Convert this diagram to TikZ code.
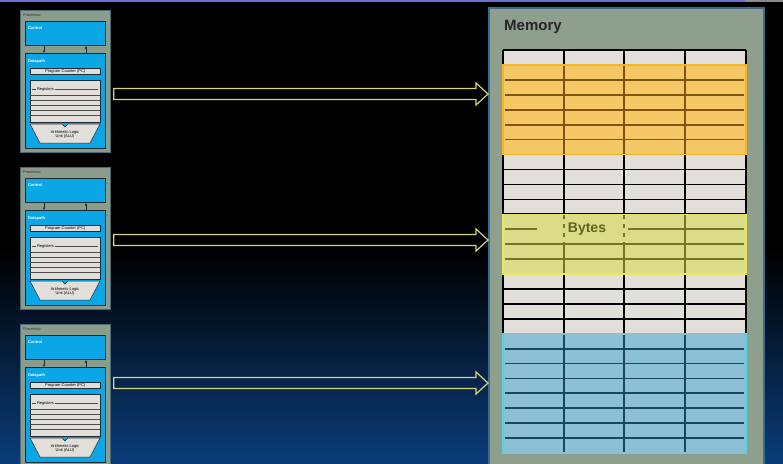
\documentclass[tikz,border=0pt]{standalone}
\usepackage{fontspec}
\setmainfont{Liberation Sans}
\usetikzlibrary{calc,arrows.meta}

\definecolor{bgblue}{HTML}{0B3C7A}
\definecolor{bgmid}{HTML}{03142E}
\definecolor{topline}{HTML}{6C70D2}
\definecolor{procgray}{HTML}{8C9C8A}
\definecolor{procedge}{HTML}{4A6A7A}
\definecolor{cpublue}{HTML}{0AA6E6}
\definecolor{unitedge}{HTML}{1C2C38}
\definecolor{cellgray}{HTML}{E2DEDA}
\definecolor{memedge}{HTML}{3C6C8C}
\definecolor{orangefill}{HTML}{F5C865}
\definecolor{orangeline}{HTML}{80540F}
\definecolor{orangeedge}{HTML}{F5B524}
\definecolor{yellowfill}{HTML}{DCDC88}
\definecolor{yellowline}{HTML}{747424}
\definecolor{yellowedge}{HTML}{E8E860}
\definecolor{bluefill}{HTML}{8CC0D6}
\definecolor{blueline}{HTML}{1A465C}
\definecolor{blueedge}{HTML}{4CD8E6}
\definecolor{arrowyellow}{HTML}{D6D67A}

\begin{document}
\begin{tikzpicture}[x=1pt,y=-1pt,
    procbox/.style={fill=procgray,draw=procedge,line width=.8pt,anchor=north west,inner sep=0pt},
    unitbox/.style={fill=cpublue,draw=unitedge,line width=1pt,anchor=north west,inner sep=0pt},
    regbox/.style={fill=cellgray,draw=unitedge,line width=.5pt},
    regline/.style={draw=black!70,line width=.6pt},
    tinylbl/.style={font=\fontsize{4}{4.6}\selectfont,inner sep=.8pt},
    busarrow/.style={draw=unitedge,line width=.6pt,-{Latex[length=2.5pt,width=2.5pt]}},
    membox/.style={fill=procgray!97!white,draw=memedge,line width=2pt,anchor=north west,inner sep=0pt},
    cellline/.style={draw=black,line width=1.6pt},
    blockline/.style={line width=1.8pt},
    hollowarrow/.style={draw=arrowyellow,line width=1.2pt,line join=miter}]
    \useasboundingbox (0,0) rectangle (783,463);
    \clip (0,0) rectangle (783,463);
    \fill[black] (0,0) rectangle (783,463);
    \shade[top color=black,middle color=bgmid,bottom color=bgblue] (0,250) rectangle (783,463);
    \draw[topline,line width=2pt] (0,1) -- (745,1);
    \draw[black!45,line width=2pt] (745,1) -- (783,1);
    % processors
    \foreach \t [count=\i] in {10,167,324}{
	\begin{scope}[shift={(0,\t)}]
	    \node[procbox,minimum width=90pt,minimum height=142pt] (proc\i) at (20,0) {};
	    \node[tinylbl,anchor=west,text=black!80] at (22,5) {Processor};
	    \node[unitbox,minimum width=80pt,minimum height=24pt] (ctl\i) at (25,11) {};
	    \node[tinylbl,anchor=west,text=white,font=\fontsize{4}{4.6}\selectfont\bfseries] at (27,18) {Control};
	    \node[unitbox,minimum width=80pt,minimum height=95pt] (dp\i) at (25,43) {};
	    \node[tinylbl,anchor=west,text=white,font=\fontsize{4}{4.6}\selectfont\bfseries] at (27,51) {Datapath};
	    \draw[busarrow] ([xshift=19pt]ctl\i.south west) -- ([xshift=19pt]dp\i.north west);
	    \draw[busarrow] ([xshift=61pt]dp\i.north west) -- ([xshift=61pt]ctl\i.south west);
	    \node[regbox,tinylbl,minimum width=70pt,minimum height=6pt,anchor=north west] (pc\i) at (30,58) {Program Counter (PC)};
	    \filldraw[regbox] (30,70) rectangle (100,112);
	    \node[tinylbl,anchor=west] (reg\i) at (36,79) {Registers};
	    \draw[regline] (32,79) -- (reg\i.west);
	    \draw[regline] (reg\i.east) -- (98,79);
	    \foreach \y in {85,90,...,105}
		\draw[regline] (30,\y) -- (100,\y);
	    \filldraw[regbox] (30,114) -- (62,114) -- (65,117) -- (68,114) -- (100,114)
		-- (90,133) -- (40,133) -- cycle;
	    \node[tinylbl,align=center] (alu\i) at (65,124.5) {Arithmetic Logic\\Unit (ALU)};
	\end{scope}
    }
    % memory
    \node[membox,minimum width=275pt,minimum height=470pt] (mem) at (488,7) {};
    \node[anchor=north west,inner sep=0pt,font=\fontsize{15}{15}\selectfont\bfseries,text=black!85] (memlbl) at (504,19.5) {Memory};
    \def\rh{14.93}
    \fill[cellgray] (503,50) rectangle (746,{50+27*\rh});
    \foreach \r in {0,...,27}
	\draw[cellline] (503,{50+\r*\rh}) -- (746,{50+\r*\rh});
    \foreach \x in {503,564,624,685,746}
	\draw[cellline] (\x,50) -- (\x,{50+27*\rh});
    % orange block
    \filldraw[fill=orangefill,draw=orangeedge,line width=1.2pt] (503,{50+\rh}) rectangle (746,{50+7*\rh});
    \foreach \r in {2,...,6}
	\draw[orangeline,blockline] (505,{50+\r*\rh}) -- (744,{50+\r*\rh});
    \foreach \x in {564,624,685}
	\draw[orangeline,blockline] (\x,{51+\rh}) -- (\x,{49+7*\rh});
    % yellow block
    \filldraw[fill=yellowfill,draw=yellowedge,line width=1.2pt] (503,{50+11*\rh}) rectangle (746,{50+15*\rh});
    \draw[yellowline,blockline] (505,{50+12*\rh}) -- (537,{50+12*\rh});
    \draw[yellowline,blockline] (628,{50+12*\rh}) -- (744,{50+12*\rh});
    \foreach \r in {13,14}
	\draw[yellowline,blockline] (505,{50+\r*\rh}) -- (744,{50+\r*\rh});
    \foreach \x in {564,624}{
	\draw[yellowline,blockline,dash pattern=on 4pt off 5pt] (\x,{51+11*\rh}) -- (\x,{50+13*\rh});
	\draw[yellowline,blockline] (\x,{50+13*\rh}) -- (\x,{49+15*\rh});
    }
    \draw[yellowline,blockline] (685,{51+11*\rh}) -- (685,{49+15*\rh});
    \node[font=\fontsize{14}{14}\selectfont\bfseries,text=yellowline!85!black,inner sep=0pt] (bytes) at (587,{50+12*\rh}) {Bytes};
    % blue block
    \filldraw[fill=bluefill,draw=blueedge,line width=1.2pt] (503,{50+19*\rh}) rectangle (746,{50+27*\rh});
    \foreach \r in {20,...,26}
	\draw[blueline,blockline] (505,{50+\r*\rh}) -- (744,{50+\r*\rh});
    \foreach \x in {564,624,685}
	\draw[blueline,blockline] (\x,{51+19*\rh}) -- (\x,{49+27*\rh});
    % arrows processor -> memory
    \foreach \i/\ay in {1/94,2/240,3/383}{
	\coordinate (y\i) at (0,\ay);
	\draw[hollowarrow] let \p1=(proc\i.east |- y\i), \p2=(mem.west |- y\i) in
	    (\x1+3pt,\y1+5.5pt) -- (\x2-12pt,\y1+5.5pt) -- (\x2-12pt,\y1+11pt) -- (\x2,\y1)
	    -- (\x2-12pt,\y1-11pt) -- (\x2-12pt,\y1-5.5pt) -- (\x1+3pt,\y1-5.5pt) -- cycle;
    }
\end{tikzpicture}
\end{document}
